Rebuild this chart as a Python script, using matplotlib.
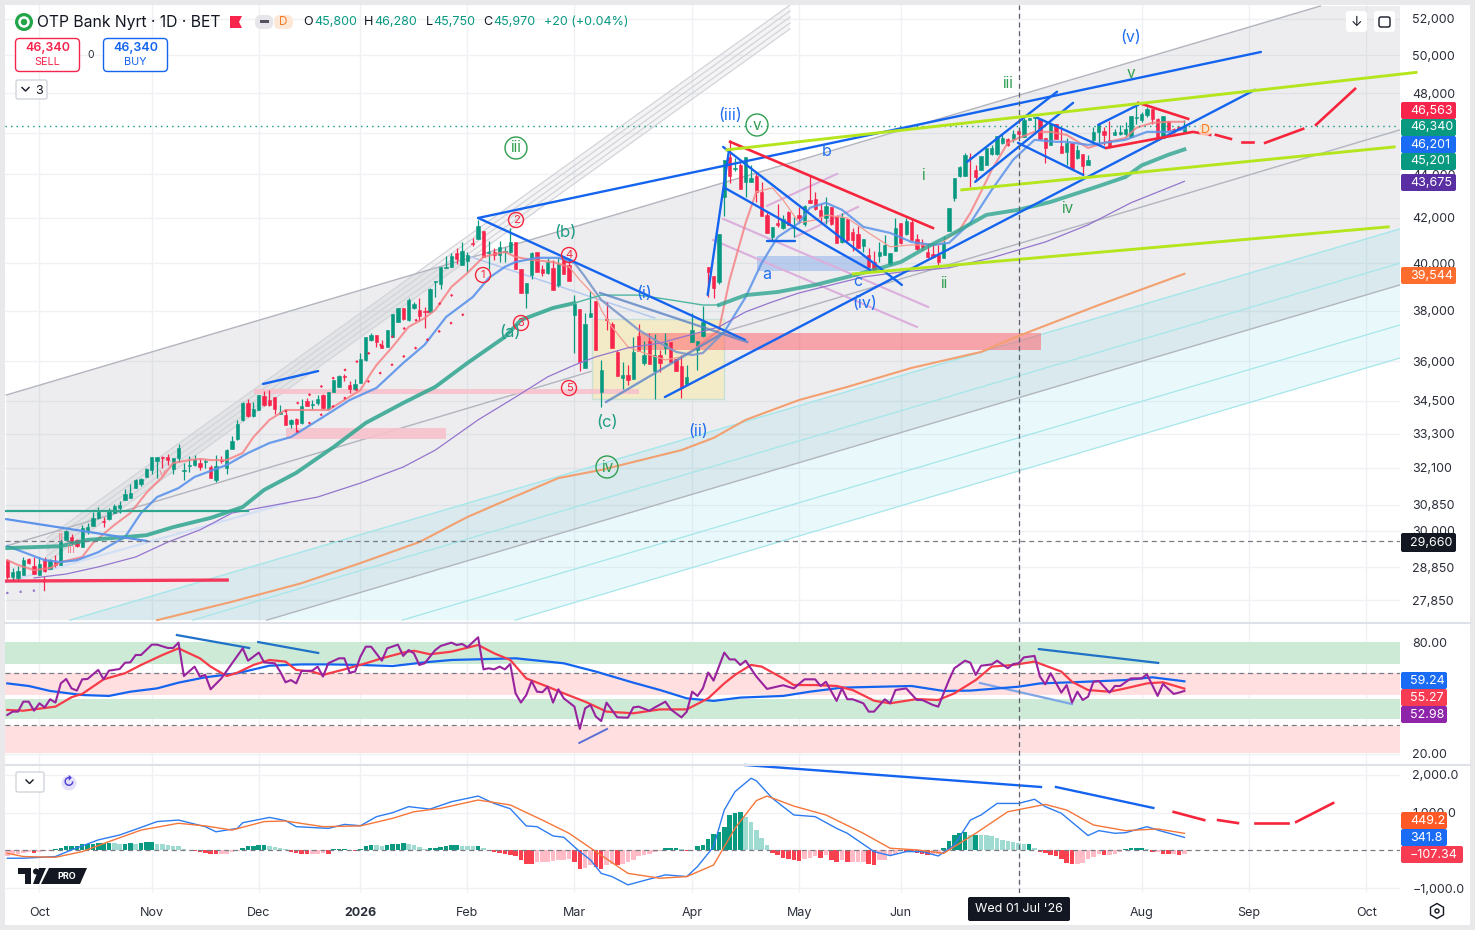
import matplotlib
matplotlib.use('Agg')
import matplotlib.pyplot as plt
import numpy as np
from matplotlib.patches import Circle, FancyBboxPatch, Polygon, Rectangle, RegularPolygon

plt.rcParams['font.family'] = ['Inter', 'DejaVu Sans']

# ---- candles, one value per trading day
opens = [29070,28550,28520,28610,29100,28890,28610,29100,28790,29010,28920,29710,29800,29710,29480,30030,30160,30420,30320,30390,
         30580,30750,31010,31080,31410,31550,31790,32030,32340,32480,32480,32060,32440,31990,32160,32200,32270,32300,32130,31690,
         32370,32090,32760,33110,33800,34420,33940,34160,34680,34530,34640,34020,33980,33650,33830,33690,34490,34350,34420,34720,
         34200,34830,35020,35430,35090,34940,35170,36050,36830,37030,36640,36560,36950,37550,38120,37630,38120,38040,38000,37960,
         39200,39120,39800,39840,40440,39930,40100,40880,41060,41410,40440,40490,40360,40490,40490,40920,39750,38740,39500,40490,
         39750,39580,39800,39080,40140,39930,37830,38080,35740,37750,38410,34830,37670,37470,36360,35360,35470,35320,36990,35930,
         36790,35620,36240,36520,36750,36090,35810,35130,36750,36440,36990,39840,39450,39200,42950,44840,44260,44430,43660,43660,
         43930,43190,42120,41140,41770,41540,42250,41540,42120,41720,42810,42860,42360,41990,42490,42030,40920,41950,41370,41280,
         40750,40360,40050,40310,40360,39970,40530,41770,41280,41810,41060,40840,40490,40400,40360,40230,41410,42900,43930,43930,
         44840,44220,44220,44430,44990,44990,45520,45710,45710,46110,45810,46660,46760,46710,45760,45420,46460,45370,45080,45520,
         44790,44990,44430,45670,46060,46110,45670,45910,45960,45960,45810,46760,46660,46910,47210,46710,45760,46610,46210,46310,
         46060]
closes = [28550,28700,28730,29070,28980,28640,28950,28730,29070,28920,29640,30000,29610,29510,30090,30120,30420,30610,30290,30650,
          30810,30850,31210,31250,31680,31720,32060,32480,32480,32440,32370,32440,32790,32030,32200,32410,32130,32340,31750,32160,
          32340,32720,33040,33650,34420,33940,34200,34720,34350,34350,34200,34090,33620,33800,33650,34310,34310,34380,34570,34240,
          34830,35280,35430,35390,34940,35130,36090,36950,37030,36750,36520,37230,37870,38120,37670,38450,38280,37790,37960,38910,
          39240,39840,39840,40310,40180,40530,40360,40840,41640,40270,40490,40360,40710,40530,40920,39750,38740,39160,40440,39620,
          39580,40050,38870,39970,39540,39240,38280,35970,37470,37910,36440,35660,37630,36520,35430,35470,35280,36360,36400,36240,
          35890,36240,35930,36710,35970,35620,34980,35390,37230,36790,37550,39620,38950,41280,44700,43930,44310,43320,44840,43830,
          43190,42080,41330,41580,41680,41950,41680,41630,41990,42540,42680,42400,42080,42540,41720,40880,42030,41010,41010,40660,
          41060,39840,39710,40490,40790,40440,41540,40880,41860,41010,40620,40710,40270,40270,40050,40880,42450,43830,44360,44940,
          44790,43880,44890,45270,45270,45860,45760,45420,45960,45960,46660,46760,46810,45710,45270,46460,45710,45030,45520,44260,
          45180,44400,44700,46060,46410,45910,45320,46060,46060,46210,46860,46810,46960,47210,46710,45810,46860,46160,46060,46210,
          46340]
highs = [29100,28830,28890,29170,29140,29170,29170,29170,29100,29230,29930,30030,29900,29740,30190,30250,30610,30780,30450,30750,
         30880,30980,31380,31550,31720,31750,32090,32480,32480,32510,32580,32440,32930,32270,32510,32550,32410,32410,32200,32550,
         32510,32760,33220,33800,34460,34570,34460,34720,34870,34900,34640,34350,34090,33830,33870,34570,34610,34530,34720,34750,
         34830,35280,35470,35510,35240,35320,36320,36950,37110,37030,36830,37230,37870,38120,38120,38530,38370,38530,38160,38950,
         39240,39840,40310,40440,40660,40920,40490,41100,41900,41410,40970,40660,40970,40710,41540,40920,39750,39160,40490,40490,
         39930,40230,40140,40230,40270,40230,38660,38080,37910,38820,38410,36050,38370,37550,36440,35970,35850,36950,37470,36790,
         37110,37070,36440,37110,36750,36090,36240,35850,37910,36790,38200,39840,39450,41280,44700,45670,44790,44560,44840,44430,
         44130,43660,42250,41580,42640,42120,42300,42030,42490,42590,43930,43190,42640,42950,42490,42120,42210,41950,41540,41630,
         41060,40660,40530,40920,41230,40440,41990,41770,41990,41950,41280,41060,40880,40880,40790,41190,42450,43830,44400,45030,
         45030,44430,44890,45270,45420,45860,46010,45760,46160,46260,46760,46760,46810,46710,45760,46460,46460,46260,45760,45520,
         45420,44990,44940,46310,46460,46310,46610,46210,46410,46560,46860,47370,47060,47320,47210,46760,46860,46610,46260,46360,
         46660]
lows = [28490,28420,28420,28610,28950,28640,28610,28700,28790,28860,28920,29710,29550,29480,29480,29900,30160,30390,30120,30350,
        30580,30580,31010,31080,31410,31480,31790,31890,31750,32090,32200,31890,32300,31690,31960,32160,32030,32090,31750,31620,
        32270,31890,32760,33080,33760,33910,33910,34160,34310,34310,34020,34020,33620,33510,33330,33650,34310,34200,34350,34200,
        34160,34830,35020,35240,34790,34900,35170,36010,36790,36560,36520,36560,36950,37550,37630,37590,38080,37590,37310,37960,
        38570,38910,39800,39840,39970,39930,39620,40750,41060,40270,39750,40140,40050,40050,40440,39750,38740,38120,39330,39620,
        39450,39540,38870,39000,39540,39240,36320,35620,35740,37750,36440,34270,37230,36520,35430,34940,35090,35320,36400,35850,
        35890,34570,35590,36280,35970,35620,34610,35130,36750,35660,36950,38570,38530,39120,42080,43610,44170,43320,42950,43660,
        42720,42080,41330,40970,41580,41500,41680,41140,41770,41630,42680,42360,41770,41720,41680,40880,40880,40880,40530,40660,
        40490,39840,39620,40050,40360,39930,40530,40840,41230,41010,40570,40570,40230,40230,39930,40230,41410,42770,43880,43930,
        43420,43740,44220,44430,44940,44940,45470,45370,45570,45760,45810,46660,46010,45710,44560,45420,45710,45030,44430,44260,
        44740,43970,44430,45420,45420,45420,45320,45910,45910,45810,45810,46460,46560,46810,46460,45760,45760,46160,46010,46160,
        46060]

# ---- moving averages: bar number and price
ma_pink_x = [0,2,5,8,10,14,16,20,23,26,29,31,34,36,38,41,44,46,49,52,55,60,63,66,68,69,72,75,78,80,83,86,89,93,95,98,102,105,107,110,
             111,113,116,119,123,126,129,133,135,138,140,143,145,148,151,153,157,161,165,169,174,178,180,182,184,187,189,192,195,198,202,205,209,211,214,217,220]
ma_pink = [29070,28920,28760,28825,29010,29170,29610,30190,30580,31250,31790,32270,32370,32410,32370,32370,32620,33180,33800,34160,34160,34160,34530,34900,35550,35850,36560,37350,37710,38040,38990,39580,40270,40490,40270,40140,40050,39840,39285,38570,
           38040,37350,36560,36320,36050,36170,36560,37230,39285,41770,43190,43370,42810,41770,41900,42120,41990,41320,40710,40790,40790,41455,42220,43190,44220,45520,45760,46060,46060,45910,45270,45520,45760,46260,46510,46560,46563]
ma_blue_x = [0,7,10,13,17,20,22,25,28,32,35,41,45,49,53,59,64,69,74,78,82,87,90,93,95,99,103,106,108,111,115,118,122,125,128,130,134,138,141,144,148,150,153,156,160,165,169,173,176,180,184,188,192,196,198,202,205,209,213,217,220]
ma_blue = [29515,29070,29010,29070,29320,29610,29800,30580,31110,31410,31790,32200,32620,32970,33180,33900,34530,34980,35930,36640,37750,38570,39370,39840,40050,40230,40230,40010,39410,38450,37750,37230,36710,36360,36240,36320,37150,38570,40010,41140,41770,42450,42680,42360,41590,41320,40920,40790,40880,41770,43280,44700,45670,45570,45570,45420,45520,45670,46060,46060,46201]
ma_green_x = [0,5,10,15,22,26,31,38,44,48,54,61,67,74,80,86,93,96,102,106,111,118,124,130,133,138,144,151,157,162,167,172,177,183,189,195,203,209,212,217,220]
ma_green = [29450,29480,29510,29710,29800,29860,30120,30420,30780,31350,31930,32830,33690,34420,35020,35930,36950,37630,38120,38320,38650,38650,38450,38240,38240,38650,38780,39075,39410,39710,40050,40710,41320,42130,42360,42720,43370,43880,44430,44940,45201]
ma_purple_x = [5,11,17,24,30,36,42,58,66,74,80,88,95,101,106,110,116,122,129,133,138,143,148,154,160,167,176,184,194,202,210,220]
ma_purple = [28520,28640,28860,29170,29640,30030,30580,31110,31580,32130,32720,33800,34640,35400,35850,36170,36520,36710,37110,37350,37960,38370,38740,39075,39410,39620,39800,40230,40920,41680,42680,43675]
ma_orange_x = [28,42,55,66,77,86,92,103,111,126,132,138,148,157,169,182,189,204,220]
ma_orange = [27255,27800,28360,28980,29640,30450,30910,31750,32030,32720,33150,33800,34530,35020,35740,36360,36990,38240,39544]

# ---- rsi pane
rsi_x = [0,1,2,3,4,5,6,7,8,9,10,11,12,13,14,15,17,18,19,21,22,23,24,25,27,28,30,31,32,33,35,36,37,38,40,42,44,45,47,48,50,51,52,53,54,55,57,58,59,60,62,63,64,65,66,67,68,70,71,73,74,75,76,77,78,80,81,83,84,85,86,88,89,90,91,92,93,94,95,96,97,98,99,100,101,102,103,104,106,107,108,109,110,111,112,114,116,117,118,120,121,123,124,126,127,128,129,130,131,132,134,135,136,
         137,138,140,142,145,147,149,151,152,153,155,156,157,158,160,161,162,164,165,166,168,170,171,173,174,176,177,179,180,181,182,184,185,187,188,189,190,192,193,194,195,197,198,199,200,201,202,203,204,206,207,208,210,212,213,215,216,218,219,220]
rsi_vals = [41.0,42.8,42.8,48.2,48.2,43.3,47.3,45.1,49.5,47.7,58.1,60.5,55.4,54.2,60.3,60.5,65.4,60.3,65.0,65.9,69.3,69.5,73.5,73.5,79.1,79.1,77.3,77.3,80.2,62.1,67.2,61.8,62.7,54.9,60.8,69.0,77.1,70.4,74.8,69.5,69.0,64.5,58.7,59.9,58.1,64.8,65.0,67.2,61.8,69.0,71.7,71.7,63.9,64.5,72.6,78.0,78.0,70.4,77.1,79.1,73.0,76.2,74.4,68.1,69.0,76.2,78.4,80.2,78.9,79.5,77.7,83.1,65.7,66.3,65.7,67.2,65.7,68.6,52.7,47.7,51.8,59.4,53.6,53.3,56.3,47.7,54.9,50.0,45.5,33.4,44.6,46.4,40.1,37.7,47.7,39.7,39.5,45.1,45.5,43.3,45.0,48.2,44.0,39.7,42.8,53.6,51.3,55.4,64.0,59.6,74.8,71.1,71.1,
            68.1,70.4,61.8,55.1,57.1,55.4,60.3,60.3,56.7,59.0,48.6,55.4,49.5,49.5,47.3,42.8,42.8,49.5,47.3,54.5,55.4,49.1,49.1,46.4,45.5,59.9,66.3,70.4,69.3,62.7,67.7,68.4,70.4,66.3,68.6,69.0,72.2,73.0,61.8,57.6,63.6,53.1,57.2,47.7,53.6,49.1,50.9,59.0,59.4,53.1,56.7,56.7,60.8,60.8,63.0,51.3,57.8,52.4,53.1,54.0]
rsi_ma_x = [0,3,9,12,14,18,22,25,29,32,36,38,41,43,46,49,52,54,57,59,63,67,70,74,76,79,83,88,91,94,97,101,104,108,112,117,122,127,131,134,136,139,141,145,147,151,155,158,162,165,170,174,177,181,184,188,192,197,199,202,206,209,213,216,220]
rsi_ma = [43.7,43.3,45.5,50.6,52.4,60.3,63.6,68.1,73.5,77.1,71.7,67.2,62.1,63.9,68.1,70.8,69.9,65.4,64.5,62.7,65.7,69.0,71.7,74.8,75.8,73.9,75.3,78.9,74.4,70.8,60.8,56.3,52.7,48.2,42.8,41.9,44.0,44.0,50.0,58.1,62.7,68.1,67.2,60.8,57.2,57.2,56.7,54.5,48.7,47.3,49.6,49.1,52.7,59.9,67.2,68.1,69.9,64.5,59.0,54.5,53.6,55.4,58.1,58.7,55.27]
rsi_long_x = [0,4,8,14,19,23,28,32,37,43,49,55,60,66,72,78,83,95,104,110,117,122,127,132,137,145,150,156,169,175,180,189,193,199,209,214,220]
rsi_long = [58.1,56.7,54.0,51.8,51.3,53.6,55.4,58.5,61.4,63.6,67.7,68.4,68.4,68.1,67.5,69.5,70.8,71.7,69.0,64.5,58.5,54.5,50.0,48.6,50.4,51.3,53.6,55.8,56.7,54.0,54.2,56.3,58.1,58.7,59.9,61.4,59.24]

# ---- macd pane
macd_x = [0,3,9,12,17,21,24,28,32,37,39,43,44,49,52,54,60,63,66,69,72,75,79,83,88,91,94,97,99,102,104,107,109,111,113,116,119,123,127,129,132,134,136,139,140,143,147,151,155,157,162,165,168,171,174,177,180,182,185,189,192,194,197,202,204,207,209,213,215,220]
macd_line = [-210,-210,-165,10,275,405,555,760,800,625,490,580,730,870,785,625,580,685,650,890,995,1155,1090,1285,1435,1240,1100,645,625,380,345,-35,-255,-610,-695,-915,-800,-650,-695,-430,95,1065,1550,1905,1840,1375,935,890,580,450,-35,-140,-35,-35,-150,140,800,935,1240,1240,1350,1155,980,390,520,450,465,625,535,341.8]
signal_x = [0,3,9,14,19,25,32,37,42,48,52,59,66,72,76,81,88,94,100,105,110,116,122,127,132,136,140,142,147,153,160,165,170,175,181,187,194,198,203,209,215,220]
signal_line = [-80,-165,-185,-35,230,535,715,645,535,760,775,625,645,845,1020,1110,1330,1200,800,450,-35,-610,-740,-695,-390,580,1315,1435,1170,935,450,55,10,-80,450,1020,1215,1065,670,520,565,449.2]
macd_hist = [-160,-105,-90,-70,-55,-70,-35,-20,-10,25,55,105,105,115,160,175,175,185,195,195,185,175,175,185,175,195,210,210,175,160,140,125,115,35,20,-25,-45,-70,-90,-105,-105,-90,-55,-25,55,105,125,130,140,105,80,55,25,-55,-70,-90,-105,-90,-90,-70,-90,25,35,45,20,-20,25,115,150,130,115,130,160,175,195,160,130,90,25,55,70,95,115,130,130,125,115,105,115,70,20,-45,-70,-90,-130,-150,-265,-350,-370,-310,-310,-310,-290,-265,-245,-220,-310,-485,-460,-395,-440,-485,-395,-350,-395,-350,-310,-265,-160,-125,-90,-45,-25,70,70,70,45,-20,-20,115,150,310,440,485,615,925,985,1015,880,750,545,335,130,-70,-130,-195,-240,-265,-280,-220,-195,-160,-195,-130,-245,-310,-265,-310,-310,-310,-310,-370,-380,-265,-245,-160,-90,-25,-45,-55,-70,-90,-115,-115,-90,70,245,395,460,485,395,415,405,395,370,325,265,240,220,205,175,175,70,-45,-70,-130,-160,-240,-325,-350,-350,-335,-220,-175,-105,-130,-115,-90,-55,25,55,60,60,35,-55,-35,-90,-105,-105,-115,-107.34]

# ---- axis labels
month_pos = [6,27,47,66,86,106,128,148,167,189,212,232,254]
month_labels = ['Oct','Nov','Dec','2026','Feb','Mar','Apr','May','Jun','','Aug','Sep','Oct']
price_ticks = [52000,50000,48000,46000,44000,42000,40000,38000,36000,34500,33300,32100,30850,30000,28850,27850]

GREEN = '#089981'
RED = '#f7254c'
BLUE = '#1464f0'
LIME = '#b5e61d'
W, H = 1475, 930

fig = plt.figure(figsize=(14.75, 9.3), dpi=100, facecolor='white')


def panel(left, top, right, bottom):
    return fig.add_axes([left / W, 1 - bottom / H, (right - left) / W, (bottom - top) / H])


ax = panel(5, 5, 1400, 622)
ax_rsi = panel(5, 624, 1400, 764)
ax_macd = panel(5, 765, 1400, 893)

for a in (ax, ax_rsi, ax_macd):
    a.set_xlim(-0.43, 260.3)
    a.set_xticks(month_pos)
    a.grid(True, color='#f0f1f5', lw=1)
    a.set_axisbelow(True)
    a.yaxis.tick_right()
    a.tick_params(length=0, labelsize=9, labelcolor='#2a2e39', pad=9)
    for s in a.spines.values():
        s.set_visible(False)

ax.set_yscale('log')
ax.set_ylim(27201, 52788)
ax.set_yticks(price_ticks)
ax.set_yticklabels([f'{p:,}' for p in price_ticks])
ax.minorticks_off()
ax.set_xticklabels([])
ax_rsi.set_xticklabels([])

# ---- channels
ax.fill([-0.2, 245.4, 260.3, 260.3, 48.5, -0.2], [34715, 52730, 52730, 39075, 27255, 27255], color='#787b86', alpha=0.13, lw=0, zorder=1)
ax.fill([7.4, 146.3, 146.3, 7.4], [29770, 52790, 51450, 29010], color='#787b86', alpha=0.08, lw=0, zorder=1)
ax.fill([11.7, 260.3, 260.3, 94.9], [27255, 41500, 36125, 27255], color='#4dd0e1', alpha=0.12, lw=0, zorder=1)
for start, end in zip([29770, 29580, 29390, 29200, 29010], [52790, 52450, 52110, 51780, 51450]):
    ax.plot([7.4, 146.3], [start, end], color='#d2d4da', lw=0.9, zorder=2)
ax.plot([-0.2, 245.4], [34715, 52730], color='#b2b5be', lw=1, zorder=2)
ax.plot([-0.2, 260.3], [29515, 46160], color='#b2b5be', lw=1, zorder=2)
ax.plot([48.5, 260.3], [27255, 39075], color='#b2b5be', lw=1, zorder=2)
ax.plot([11.7, 260.3], [27255, 41500], color='#a5e6ea', lw=1, zorder=2)
ax.plot([34.7, 260.3], [27255, 40000], color='#a5e6ea', lw=0.9, zorder=2)
ax.plot([73.8, 260.3], [27255, 37430], color='#a5e6ea', lw=0.9, zorder=2)
ax.plot([94.9, 260.3], [27255, 36125], color='#a5e6ea', lw=0.9, zorder=2)

# ---- zones
ax.add_patch(Rectangle((109.3, 34570), 24.7, 37670 - 34570, fc='#f3ebc8', ec='#c9e0d8', lw=1, zorder=2))
ax.fill_between([46.1, 118.1], 34750, 34935, color='#f7c2cc', alpha=0.9, lw=0, zorder=2.1)
ax.fill_between([52.1, 82], 33110, 33505, color='#f7c2cc', alpha=0.9, lw=0, zorder=2.1)
ax.fill_between([117.9, 193.2], 36440, 37110, color='#ff5a64', alpha=0.5, lw=0, zorder=2.1)
ax.fill_between([140.1, 161.3], 39670, 40310, color='#6f9cea', alpha=0.4, lw=0, zorder=2.1)

# ---- candles
x = np.arange(len(closes))
colors = [GREEN if c >= o else RED for o, c in zip(opens, closes)]
ax.vlines(x, lows, highs, colors=colors, lw=0.9, zorder=4)
bottoms = [min(o, c) for o, c in zip(opens, closes)]
heights = [abs(c - o) for o, c in zip(opens, closes)]
ax.bar(x, heights, bottom=bottoms, width=0.62, color=colors, edgecolor=colors, lw=0.4, zorder=4)
ax.plot([6.9, 6.9], [28545, 28150], color=RED, lw=0.9, zorder=4)

# ---- moving averages, the pink one thins out in the pullbacks
ax.plot(ma_pink_x[:38], ma_pink[:38], color='#f77c80', lw=1.5, alpha=0.8, zorder=5)
ax.plot(ma_pink_x[37:47], ma_pink[37:47], color='#f79a90', lw=0.9, zorder=5)
ax.plot(ma_pink_x[46:51], ma_pink[46:51], color='#f77c80', lw=1.5, alpha=0.8, zorder=5)
ax.plot(ma_pink_x[50:62], ma_pink[50:62], color='#f79a90', lw=0.9, zorder=5)
ax.plot(ma_pink_x[61:], ma_pink[61:], color='#f77c80', lw=1.5, alpha=0.8, zorder=5)
ax.plot(ma_blue_x[:28], ma_blue[:28], color='#5b93ea', lw=1.6, alpha=0.9, zorder=5)
ax.plot(ma_blue_x[27:37], ma_blue[27:37], color='#7d98c8', lw=1.6, alpha=0.9, zorder=5)
ax.plot(ma_blue_x[36:], ma_blue[36:], color='#5b93ea', lw=1.6, alpha=0.85, zorder=5)
ax.plot(ma_green_x[:20], ma_green[:20], color='#2ea58f', lw=2.8, alpha=0.85, zorder=5)
ax.plot(ma_green_x[19:25], ma_green[19:25], color='#4db6a0', lw=1, zorder=5)
ax.plot(ma_green_x[24:], ma_green[24:], color='#2ea58f', lw=2.8, alpha=0.8, zorder=5)
ax.plot(ma_purple_x, ma_purple, color='#9575cd', lw=0.9, zorder=5)
ax.plot(ma_orange_x, ma_orange, color='#f2a070', lw=1.5, zorder=5)

# ---- drawn lines
ax.plot([-0.2, 45], [30650, 30650], color='#2ea58f', lw=1.6, zorder=5)
ax.plot([-0.2, 26.1], [30380, 29675], color='#5b93ea', lw=1.6, zorder=5)
ax.plot([-0.2, 52.3], [28395, 30910], color='#d3dff5', lw=1.6, zorder=3)
ax.plot([-0.2, 41.1], [28425, 28455], color=RED, lw=2.4, alpha=0.9, zorder=6)
ax.plot([-0.2, 6.1], [28060, 28150], color='#9575cd', lw=1.6, ls=(0, (1, 5)), zorder=5)
ax.plot([51.9, 83.7], [34090, 38740], color=RED, lw=1.6, ls=(0, (1, 5.5)), zorder=5)
ax.plot([54.1, 85.9], [33360, 37960], color=RED, lw=1.6, ls=(0, (1, 5.5)), zorder=5)
ax.plot([86.1, 121], [40310, 37710], color='#b4c8f0', lw=1.1, zorder=3)
ax.plot([131.9, 170], [41010, 37350], color='#dcaedc', lw=1.5, zorder=3)
ax.plot([133.8, 172.1], [41950, 38160], color='#dcaedc', lw=1.5, zorder=3)
ax.plot([142, 155.1], [42540, 44030], color='#dcaedc', lw=1.5, zorder=3)
ax.plot([147.2, 159], [41140, 42490], color='#dcaedc', lw=1.5, zorder=3)

blue_lines = [
    ([47.8, 58.1], [35130, 35620]),
    ([88.0, 234.3], [41990, 50190]),
    ([88.0, 137.9], [41990, 36830]),
    ([122.9, 233.2], [34640, 48190]),
    ([130.9, 134.9], [38660, 45180]),
    ([133.8, 167.2], [45320, 39075]),
    ([134.1, 161.3], [43370, 39710]),
    ([142, 147.2], [40970, 40970]),
    ([179.4, 196.2], [44600, 48090]),
    ([180.9, 199.2], [43650, 47520]),
    ([188.9, 201.1], [45520, 43980]),
    ([192.5, 205.2], [46760, 45270]),
    ([203.9, 211.4], [46410, 47420]),
]
for bx, by in blue_lines:
    ax.plot(bx, by, color=BLUE, lw=1.7, zorder=6, solid_capstyle='round')
ax.plot([110.8, 138.3], [38740, 36750], color='#5d86c8', lw=1.7, alpha=0.8, zorder=6)
ax.plot([111.9, 134.1], [34455, 37150], color='#5d86c8', lw=1.7, alpha=0.8, zorder=6)

red_lines = [
    ([135.1, 173], [45570, 41540]),
    ([211.4, 220.7], [47520, 46710]),
    ([205.4, 221.6, 224.8], [45270, 46060, 45910]),
    ([225.9, 228.7], [45910, 45710]),
    ([230.8, 232.9], [45570, 45570]),
    ([235.1, 242.2], [45520, 46210]),
    ([244.6, 251.9], [46410, 48240]),
]
for bx, by in red_lines:
    ax.plot(bx, by, color='#f7253c', lw=1.9, zorder=6)

ax.plot([134.5, 263.3], [45180, 49100], color=LIME, lw=2.1, zorder=6, clip_on=False)
ax.plot([178.4, 259.2], [43277, 45320], color=LIME, lw=2.1, zorder=6)
ax.plot([158.1, 258.1], [39540, 41590], color=LIME, lw=2.1, zorder=6)

ax.axhline(46340, color=GREEN, lw=1, ls=(0, (1, 3)), zorder=5)
ax.axhline(29660, color='#787b86', lw=0.9, ls=(0, (4, 3)), zorder=5)

# ---- rsi
ax_rsi.set_ylim(14.4, 90.3)
ax_rsi.set_yticks([80, 20])
ax_rsi.set_yticklabels(['80.00', '20.00'])
ax_rsi.axhspan(68.6, 80.5, color='#cdead6', lw=0)
ax_rsi.axhspan(51.8, 63.7, color='#ffdfe0', lw=0)
ax_rsi.axhspan(38.8, 49.6, color='#cdead6', lw=0)
ax_rsi.axhspan(20.5, 35, color='#ffdfe0', lw=0)
ax_rsi.axhline(63.8, color='#787b86', lw=0.9, ls=(0, (4, 3)))
ax_rsi.axhline(35.7, color='#787b86', lw=0.9, ls=(0, (4, 3)))
ax_rsi.plot([31.7, 45.2], [84.3, 77.3], color='#1f72c8', lw=1.6)
ax_rsi.plot([46.9, 58.1], [80.5, 74.6], color='#1f72c8', lw=1.6)
ax_rsi.plot([106.9, 112.1], [25.8, 33.4], color='#5b6fd8', lw=1.4)
ax_rsi.plot([192.8, 215.1], [76.7, 69.2], color='#1f72c8', lw=1.6)
ax_rsi.plot([181.8, 199], [58.3, 46.9], color='#7fa6e6', lw=1.6)
ax_rsi.plot(rsi_long_x, rsi_long, color=BLUE, lw=1.6)
ax_rsi.plot(rsi_ma_x, rsi_ma, color='#f73b48', lw=1.6)
ax_rsi.plot(rsi_x, rsi_vals, color='#98239f', lw=1.5)

# ---- macd
ax_macd.set_ylim(-1130, 2257)
ax_macd.set_yticks([2000, 1000, -1000])
ax_macd.set_yticklabels(['2,000.0', '1,000.0', '\u22121,000.0'])
bar_colors = []
for i, h in enumerate(macd_hist):
    prev = macd_hist[i - 1] if i else h
    if h >= 0:
        bar_colors.append('#089981' if h >= prev else '#a0dbd2')
    else:
        bar_colors.append('#ffbcc6' if h >= prev else '#f9404f')
ax_macd.bar(np.arange(len(macd_hist)), macd_hist, width=0.85, color=bar_colors, lw=0)
ax_macd.axhline(0, color='#787b86', lw=0.9, ls=(0, (4, 3)))
ax_macd.plot(macd_x, macd_line, color='#2d7cf0', lw=1)
ax_macd.plot(signal_x, signal_line, color='#f5763a', lw=1)
ax_macd.plot([137.9, 193.2], [2257, 1675], color=BLUE, lw=1.7, clip_on=False)
ax_macd.plot([196, 214.2], [1675, 1120], color=BLUE, lw=1.7)
for bx, by in [([218, 223.7], [1015, 800]), ([226.3, 230], [800, 720]), ([233.2, 239.4], [720, 720]), ([240.9, 247.8], [750, 1250])]:
    ax_macd.plot(bx, by, color='#f7253c', lw=1.9)
ax_macd.set_xticklabels(month_labels)
ax_macd.tick_params(axis='x', pad=10, labelsize=9, labelcolor='#2a2e39')
for lab in ax_macd.get_xticklabels():
    if lab.get_text() == '2026':
        lab.set_fontweight('bold')

for a in (ax, ax_rsi, ax_macd):
    a.axvline(189, color='#5d606b', lw=0.9, ls=(0, (4, 3)), zorder=7)

# ---- overlay in picture pixels for labels, tags and buttons
ov = fig.add_axes([0, 0, 1, 1], zorder=10)
ov.set_xlim(0, W)
ov.set_ylim(H, 0)
ov.axis('off')
ov.patch.set_alpha(0)


def label(px, py, s, color='#131722', size=12, ha='center', **kw):
    ov.text(px, py, s, color=color, fontsize=size, ha=ha, va='center', **kw)


def ring(px, py, s, color, r=11, size=11):
    ov.add_patch(Circle((px, py), r, fc='none', ec=color, lw=1))
    label(px, py, s, color, size)


def tag(top, bottom, s, color, right=1456):
    ov.add_patch(FancyBboxPatch((1402, top + 1), right - 1403, bottom - top - 2, boxstyle='round,pad=1,rounding_size=2', fc=color, ec='none'))
    label(1410, (top + bottom) / 2, s, 'white', 9, ha='left')


# frame
ov.add_patch(Rectangle((0, 0), W, 5, fc='#e9e9ec', ec='none'))
ov.add_patch(Rectangle((0, 0), 5, H, fc='#e9e9ec', ec='none'))
ov.add_patch(Rectangle((0, 925), W, 5, fc='#e9e9ec', ec='none'))
ov.add_patch(Rectangle((1470, 0), 5, H, fc='#e9e9ec', ec='none'))
ov.plot([5, 1470], [623, 623], color='#dfe1e8', lw=1.5)
ov.plot([5, 1470], [764.5, 764.5], color='#dfe1e8', lw=1.5)

# legend line
ov.add_patch(Circle((24, 22), 9, fc='#22a447', ec='none'))
ov.add_patch(Circle((24, 22), 4.5, fc='none', ec='white', lw=1.8))
label(37, 22, 'OTP Bank Nyrt \u00b7 1D \u00b7 BET', '#131722', 11.3, ha='left')
ov.add_patch(Polygon([[230, 16], [242, 16], [239, 22], [242, 28], [230, 28]], fc=RED, ec='none'))
ov.add_patch(FancyBboxPatch((255, 15), 18, 14, boxstyle='round,pad=0,rounding_size=6', fc='#e6e6ea', ec='none'))
ov.add_patch(FancyBboxPatch((274, 15), 19, 14, boxstyle='round,pad=0,rounding_size=6', fc='#fde8d8', ec='none'))
ov.add_patch(Rectangle((260, 20.5), 9, 3, fc='#50535e', ec='none'))
label(283, 22, 'D', '#f57c24', 8.5)
for px, s, col in [(303, 'O', '#131722'), (314, '45,800', GREEN), (364, 'H', '#131722'), (374, '46,280', GREEN),
                   (426, 'L', '#131722'), (433, '45,750', GREEN), (483, 'C', '#131722'), (493, '45,970', GREEN),
                   (544, '+20 (+0.04%)', GREEN)]:
    label(px, 22, s, col, 9, ha='left')

# sell / buy
ov.add_patch(FancyBboxPatch((16, 39), 63, 32, boxstyle='round,pad=0.5,rounding_size=4', fc='white', ec=RED, lw=1))
ov.add_patch(FancyBboxPatch((104, 39), 63, 32, boxstyle='round,pad=0.5,rounding_size=4', fc='white', ec=BLUE, lw=1))
label(47.5, 47.5, '46,340', RED, 9, fontweight='semibold')
label(47.5, 62, 'SELL', RED, 7.8)
label(135.5, 47.5, '46,340', BLUE, 9, fontweight='semibold')
label(135.5, 62, 'BUY', BLUE, 7.8)
label(91, 55, '0', '#2a2e39', 7.5)
ov.add_patch(FancyBboxPatch((16, 80), 31, 19, boxstyle='round,pad=0,rounding_size=2', fc='white', ec='#d1d4dc', lw=1))
ov.plot([22, 25.5, 29], [87.5, 91, 87.5], color='#131722', lw=1)
label(39, 90.5, '3', '#131722', 9)

# buttons
for bx in (1346, 1374):
    ov.add_patch(FancyBboxPatch((bx, 11), 21, 21, boxstyle='round,pad=0,rounding_size=3', fc='white', ec='none'))
label(1356.5, 21.5, '\u2193', '#131722', 10)
ov.add_patch(FancyBboxPatch((1379, 17), 11, 10, boxstyle='round,pad=0,rounding_size=2', fc='none', ec='#131722', lw=1))

# wave labels
ring(516, 148, 'iii', '#2e9e4f')
ring(607, 467, 'iv', '#2e9e4f')
ring(757, 125, 'v', '#2e9e4f')
for px, py, s in [(483, 275, '1'), (516, 220, '2'), (521, 323, '3'), (569, 255, '4'), (569, 388, '5')]:
    ring(px, py, s, '#f7253c', 7.5, 8)
for px, py, s in [(730, 116, '(iii)'), (1131, 37, '(v)'), (698, 431, '(ii)'), (865, 303, '(iv)'), (644, 293, '(i)'),
                  (767, 274, 'a'), (827, 151, 'b'), (858, 281, 'c')]:
    label(px, py, s, '#1f6ff0', 11.5)
for px, py, s in [(565, 232, '(b)'), (510, 332, '(a)'), (607, 422, '(c)')]:
    label(px, py, s, '#1f9e86', 12)
for px, py, s in [(1008, 83, 'iii'), (1131, 74, 'v'), (923, 175, 'i'), (944, 283, 'ii'), (1067, 208, 'iv')]:
    label(px, py, s, '#2e9e4f', 11)
for px, py, s in [(60, 537, 'ii'), (71, 550, 'iii'), (162, 474, 'v')]:
    label(px, py, s, '#f58a94', 9)
ov.add_patch(Circle((1205, 130), 6.5, fc='#fde3c8', ec='none', alpha=0.8))
label(1205, 130, 'D', '#f57c24', 9)

# price tags
tag(102, 119, '46,563', RED)
tag(119, 136, '46,340', GREEN)
tag(136, 153, '46,201', '#1a6cf5')
tag(153, 170, '45,201', GREEN)
tag(174, 191, '43,675', '#5a2fa3')
tag(267, 284, '39,544', '#ff6d2e')
tag(533, 552, '29,660', '#131722')
tag(672, 689, '59.24', '#1a6cf5', 1447)
tag(689, 706, '55.27', '#f73b52', 1447)
tag(706, 723, '52.98', '#8e24aa', 1447)
tag(812, 829, '449.2', '#ff5a26', 1447)
tag(829, 846, '341.8', '#1a6cf5', 1447)
tag(846, 863, '\u2212107.34', '#f73b52', 1463)

# time tag and settings
ov.add_patch(FancyBboxPatch((968, 897), 102, 24, boxstyle='round,pad=0,rounding_size=2', fc='#131722', ec='none'))
label(1019, 909, "Wed 01 Jul '26", 'white', 9)
ov.add_patch(RegularPolygon((1437, 911), 6, radius=7.5, fc='none', ec='#131722', lw=1))
ov.add_patch(Circle((1437, 911), 2, fc='none', ec='#131722', lw=1))

# macd controls and logo
ov.add_patch(FancyBboxPatch((16, 772), 28, 20, boxstyle='round,pad=0,rounding_size=2', fc='white', ec='#d1d4dc', lw=1))
ov.plot([26, 29.5, 33], [780, 783.5, 780], color='#131722', lw=1)
ov.add_patch(Circle((69, 783), 7.5, fc='#e4e0fa', ec='none'))
label(69, 783, '\u21bb', '#4b3fd6', 9, fontweight='bold')
ov.add_patch(Polygon([[49, 868], [87, 868], [80, 884], [41, 884]], fc='#131722', ec='none'))
ov.add_patch(Polygon([[18, 868], [31, 868], [31, 884], [25, 884], [25, 874], [18, 874]], fc='#131722', ec='none'))
ov.add_patch(Circle((36, 871.5), 3, fc='#131722', ec='none'))
ov.add_patch(Polygon([[39, 868], [46, 868], [39, 884], [33, 884]], fc='#131722', ec='none'))
label(67, 876, 'PRO', 'white', 6.5, fontweight='bold')

fig.savefig('out.png', dpi=100)
